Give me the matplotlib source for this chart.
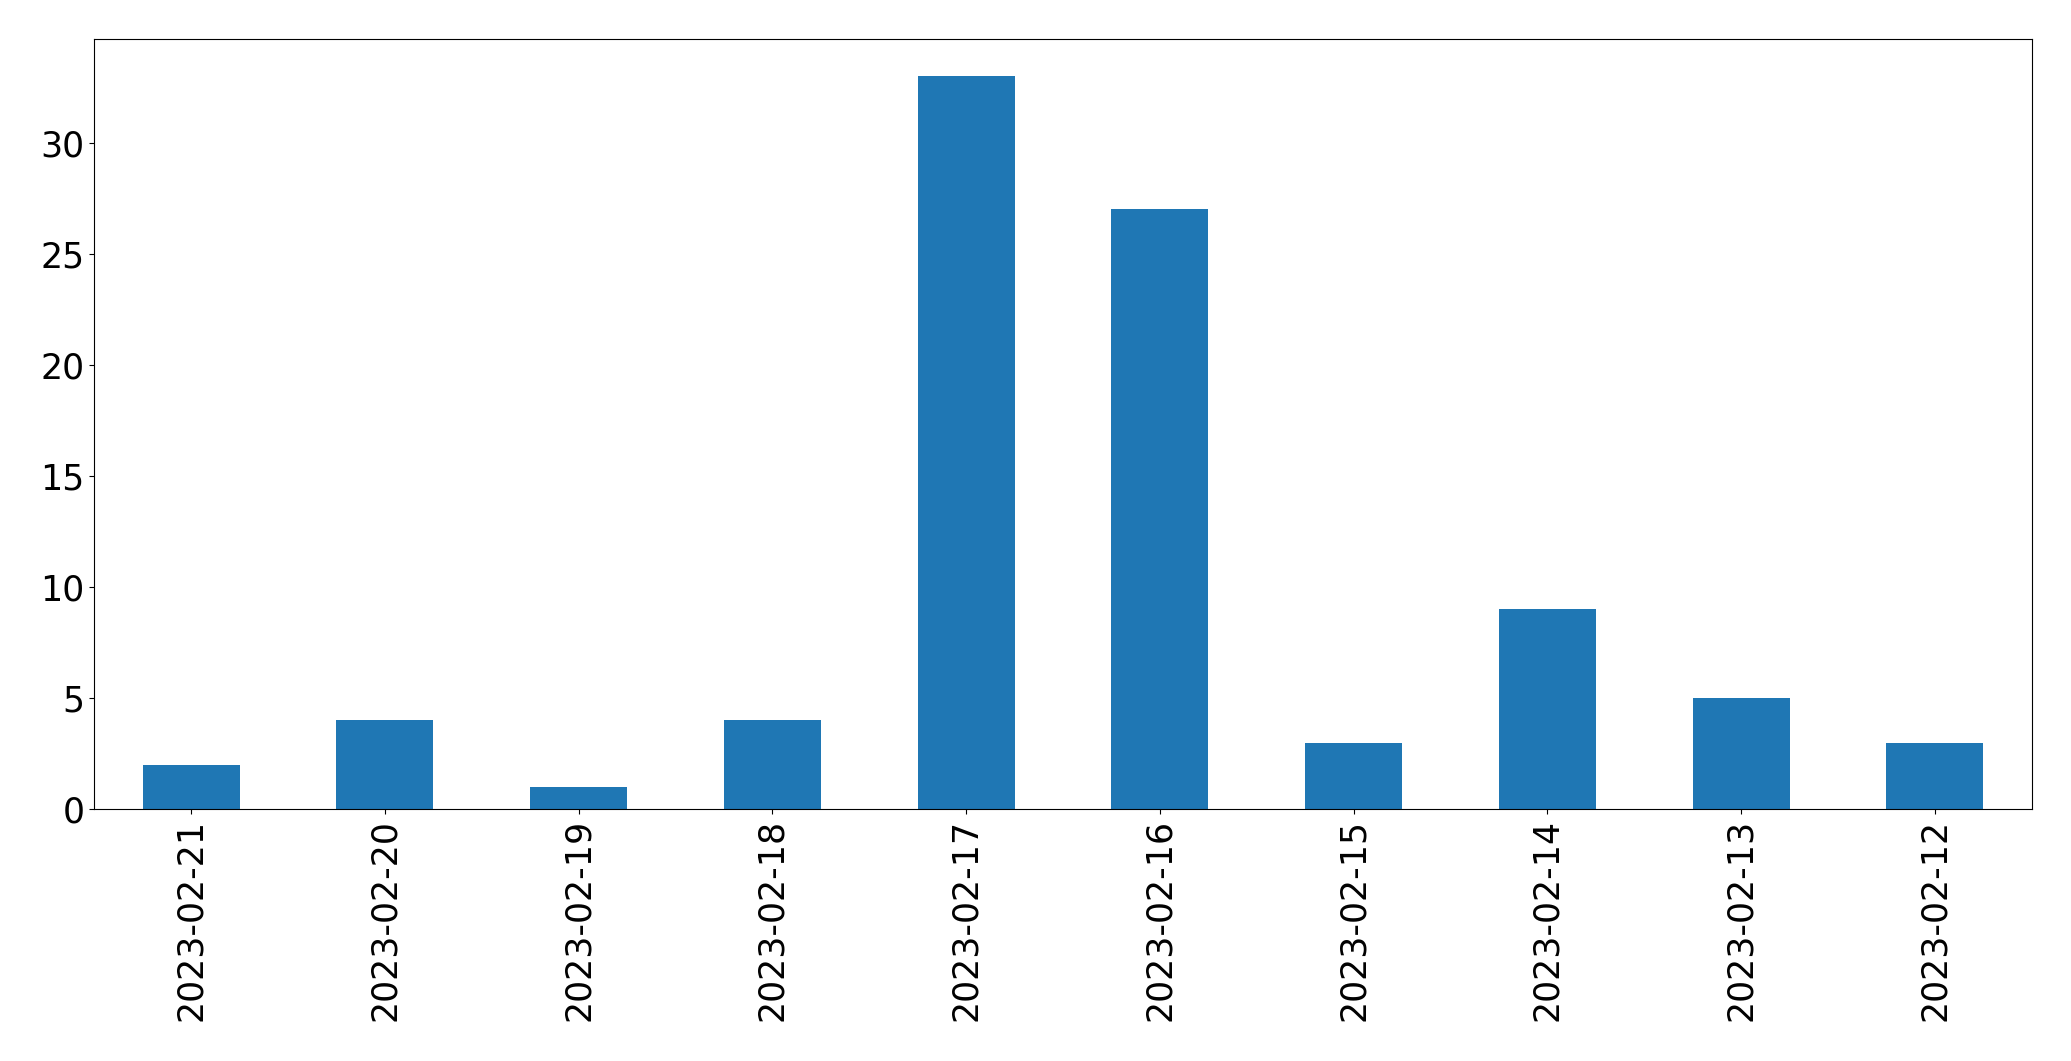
import matplotlib
matplotlib.use("Agg")
import matplotlib.pyplot as plt

dates = ["2023-02-21", "2023-02-20", "2023-02-19", "2023-02-18", "2023-02-17",
         "2023-02-16", "2023-02-15", "2023-02-14", "2023-02-13", "2023-02-12"]
counts = [2, 4, 1, 4, 33, 27, 3, 9, 5, 3]

fig = plt.figure(figsize=(20.71, 10.61), dpi=100)
W, H = 2071, 1061
left, right, top, bottom = 94.3, 2031.7, 39.3, 809.3
ax = fig.add_axes([left / W, 1 - bottom / H, (right - left) / W, (bottom - top) / H])
x = list(range(len(dates)))
ax.bar(x, counts, width=0.5, color="#1f77b4")
ax.set_xlim(-0.5, len(dates) - 0.5)
ax.set_ylim(0, max(counts) * 1.05)
ax.set_xticks(x)
ax.set_xticklabels(dates, rotation=90, fontsize=25)
ax.set_yticks([0, 5, 10, 15, 20, 25, 30])
ax.tick_params(axis="y", labelsize=25)
fig.savefig("out.png", dpi=100)
